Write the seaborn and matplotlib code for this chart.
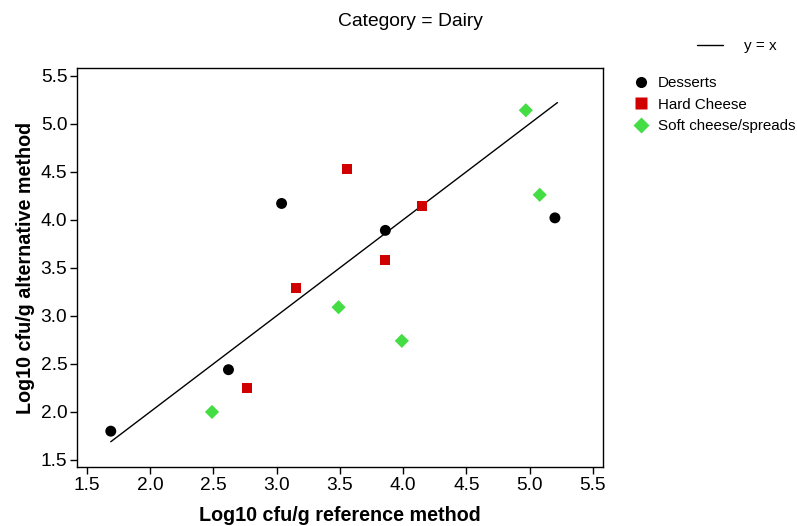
import matplotlib
matplotlib.use("Agg")
import matplotlib.pyplot as plt
import seaborn as sns
import pandas as pd
import numpy as np
from matplotlib.lines import Line2D

categories = ["Desserts", "Hard Cheese", "Soft cheese/spreads"]
desserts_x = [1.69, 2.62, 3.04, 3.86, 5.20]
desserts_y = [1.80, 2.44, 4.17, 3.89, 4.02]
hard_x = [2.77, 3.15, 3.56, 3.86, 4.15]
hard_y = [2.25, 3.29, 4.53, 3.58, 4.14]
soft_x = [2.49, 3.49, 3.99, 4.97, 5.08]
soft_y = [2.00, 3.09, 2.74, 5.14, 4.26]
ticks = [1.5, 2.0, 2.5, 3.0, 3.5, 4.0, 4.5, 5.0, 5.5]

df = pd.DataFrame({
    "x": desserts_x + hard_x + soft_x,
    "y": desserts_y + hard_y + soft_y,
    "Type": [categories[0]] * len(desserts_x) + [categories[1]] * len(hard_x) + [categories[2]] * len(soft_x),
})

sns.set_style("white")
plt.rcParams["font.family"] = ["Liberation Sans", "DejaVu Sans"]
plt.rcParams["text.color"] = "black"
plt.rcParams["axes.labelcolor"] = "black"
plt.rcParams["xtick.color"] = "black"
plt.rcParams["ytick.color"] = "black"

fig = plt.figure(figsize=(7.97, 5.26), dpi=100)
ax = fig.add_axes([77 / 797, 1 - 467 / 526, (603 - 77) / 797, (467 - 68) / 526])

palette = {categories[0]: "#000000", categories[1]: "#D00000", categories[2]: "#44DD44"}
markers = {categories[0]: "o", categories[1]: "s", categories[2]: "D"}
sizes_pt = {categories[0]: 62, categories[1]: 52, categories[2]: 52}

for cat in categories:
    sub = df[df["Type"] == cat]
    sns.scatterplot(data=sub, x="x", y="y", color=palette[cat], marker=markers[cat],
                    s=sizes_pt[cat], edgecolor="none", ax=ax, legend=False, zorder=3)

lo, hi = df["x"].min(), df["x"].max() + 0.02
ax.plot([lo, hi], [lo, hi], color="black", lw=1.0, zorder=2)

ax.set_xlim(1.423, 5.58)
ax.set_ylim(1.427, 5.58)
ax.set_xticks(ticks)
ax.set_yticks(ticks)
ax.set_xticklabels([f"{t:.1f}" for t in ticks])
ax.set_yticklabels([f"{t:.1f}" for t in ticks])
ax.tick_params(axis="both", direction="out", length=5, width=1, color="black",
               labelcolor="black", labelsize=13.8, bottom=True, left=True, pad=2)
for sp in ax.spines.values():
    sp.set_color("black")
    sp.set_linewidth(1.0)

ax.set_xlabel("Log10 cfu/g reference method", fontsize=14.2, fontweight="bold", labelpad=9, color="black")
ax.set_ylabel("Log10 cfu/g alternative method", fontsize=14.2, fontweight="bold", labelpad=4, color="black")

fig.text(410 / 797, 1 - 21 / 526, "Category = Dairy", ha="center", va="center", fontsize=13.9, color="black")

line_handle = [Line2D([0], [0], color="black", lw=1.0)]
fig.legend(line_handle, ["y = x"], loc="center left", bbox_to_anchor=(697 / 797, 1 - 46 / 526),
           frameon=False, fontsize=11, handlelength=1.7, handletextpad=1.35, borderaxespad=0,
           borderpad=0, labelcolor="black")

handles = [Line2D([0], [0], marker=markers[c], color="none", markerfacecolor=palette[c],
                  markeredgecolor="none", markersize=8) for c in categories]
fig.legend(handles, categories, loc="upper left", bbox_to_anchor=(633 / 797, 1 - 76 / 526),
           frameon=False, fontsize=10.9, handlelength=1.1, handletextpad=0.55, labelspacing=0.5,
           borderaxespad=0, borderpad=0, labelcolor="black")

fig.savefig("out.png", dpi=100)
